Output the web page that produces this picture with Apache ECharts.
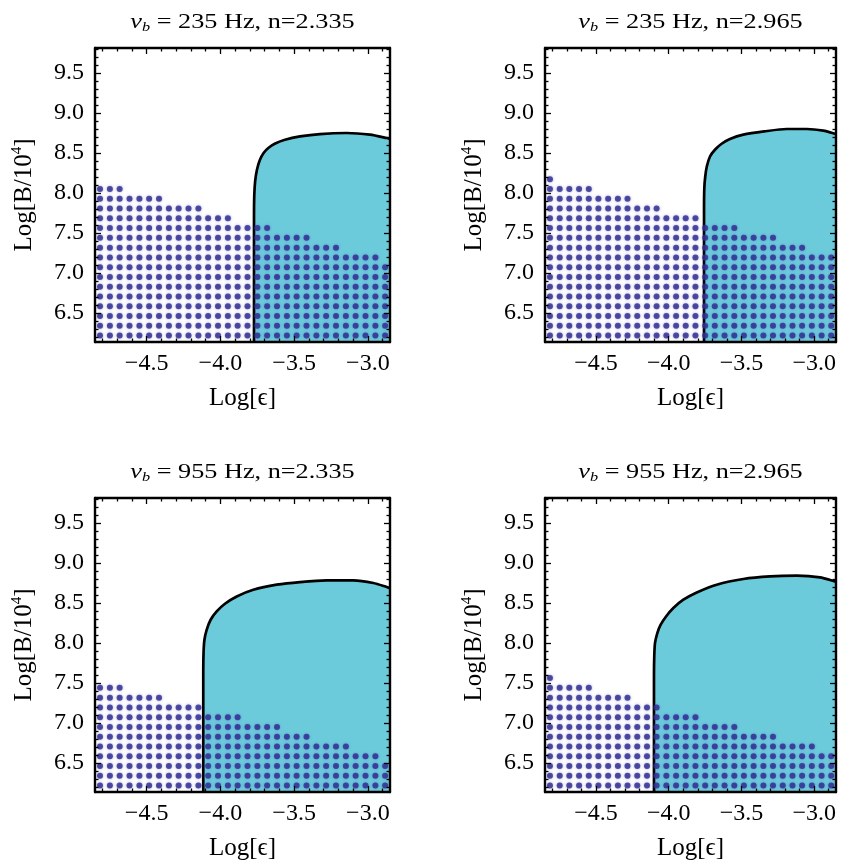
<!DOCTYPE html>
<html><head><meta charset="utf-8">
<script src="https://cdn.jsdelivr.net/npm/echarts@6/dist/echarts.min.js"></script>
<style>html,body{margin:0;padding:0;background:#fff}#c{width:842px;height:863px}</style>
</head><body><div id="c"></div>
<script>
// ---------- data ----------
const epsGrid = [-4.816,-4.749,-4.683,-4.616,-4.549,-4.483,-4.416,-4.349,-4.283,-4.216,
  -4.149,-4.083,-4.016,-3.949,-3.883,-3.816,-3.749,-3.683,-3.616,-3.549,
  -3.483,-3.416,-3.349,-3.283,-3.216,-3.149,-3.083,-3.016,-2.949,-2.883];
const bGrid = [6.22,6.342,6.464,6.586,6.708,6.83,6.952,7.074,7.196,7.318,7.44,7.562,7.684,7.806,7.928,8.05,8.172];

// highest B of the dot column at each epsGrid value
const topTL = [8.05,8.05,8.05,7.928,7.928,7.928,7.928,7.806,7.806,7.806,7.806,7.684,7.684,7.684,7.562,7.562,7.562,7.562,7.44,7.44,7.44,7.44,7.318,7.318,7.318,7.196,7.196,7.196,7.196,7.074];
const topTR = [8.172,8.05,8.05,8.05,8.05,7.928,7.928,7.928,7.928,7.806,7.806,7.806,7.684,7.684,7.684,7.684,7.562,7.562,7.562,7.562,7.44,7.44,7.44,7.44,7.318,7.318,7.318,7.196,7.196,7.196];
const topBL = [7.44,7.44,7.44,7.318,7.318,7.318,7.318,7.196,7.196,7.196,7.196,7.074,7.074,7.074,7.074,6.952,6.952,6.952,6.952,6.83,6.83,6.83,6.708,6.708,6.708,6.708,6.586,6.586,6.586,6.464];
const topBR = [7.562,7.44,7.44,7.44,7.44,7.318,7.318,7.318,7.318,7.196,7.196,7.196,7.074,7.074,7.074,7.074,6.952,6.952,6.952,6.952,6.83,6.83,6.83,6.83,6.708,6.708,6.708,6.708,6.586,6.586];

// boundary curves of the allowed (cyan) region
const curveTL = [[-3.772,6.14],[-3.772,7.7],[-3.770,7.98],[-3.764,8.15],[-3.752,8.29],[-3.733,8.41],[-3.707,8.50],[-3.673,8.565],[-3.628,8.618],[-3.562,8.665],[-3.460,8.706],[-3.325,8.736],[-3.144,8.749],[-2.986,8.728],[-2.872,8.686],[-2.85,8.675]];
const curveTR = [[-3.757,6.14],[-3.757,7.8],[-3.755,8.06],[-3.749,8.2],[-3.738,8.33],[-3.716,8.456],[-3.682,8.54],[-3.636,8.615],[-3.579,8.674],[-3.487,8.728],[-3.343,8.769],[-3.189,8.799],[-3.051,8.799],[-2.937,8.778],[-2.857,8.74],[-2.85,8.735]];
const curveBL = [[-4.116,6.14],[-4.116,7.6],[-4.114,7.88],[-4.108,8.04],[-4.093,8.165],[-4.066,8.29],[-4.025,8.394],[-3.969,8.49],[-3.889,8.581],[-3.777,8.665],[-3.618,8.728],[-3.46,8.761],[-3.279,8.781],[-3.099,8.781],[-2.963,8.749],[-2.872,8.699],[-2.85,8.685]];
const curveBR = [[-4.101,6.14],[-4.101,7.6],[-4.099,7.84],[-4.094,7.999],[-4.078,8.124],[-4.055,8.228],[-4.018,8.331],[-3.968,8.436],[-3.899,8.54],[-3.807,8.631],[-3.670,8.728],[-3.487,8.799],[-3.304,8.831],[-3.12,8.84],[-2.96,8.819],[-2.857,8.769],[-2.85,8.765]];

const titleFreq = ['235 Hz', '235 Hz', '955 Hz', '955 Hz'];
const titleN = ['2.335', '2.965', '2.335', '2.965'];

const xMajor = [-4.5,-4.0,-3.5,-3.0];
const xMinor = [-4.8,-4.7,-4.6,-4.4,-4.3,-4.2,-4.1,-3.9,-3.8,-3.7,-3.6,-3.4,-3.3,-3.2,-3.1,-2.9];
const yMajor = [6.5,7.0,7.5,8.0,8.5,9.0,9.5];
const yMinor = [6.2,6.3,6.4,6.6,6.7,6.8,6.9,7.1,7.2,7.3,7.4,7.6,7.7,7.8,7.9,8.1,8.2,8.3,8.4,8.6,8.7,8.8,8.9,9.1,9.2,9.3,9.4,9.6,9.7,9.8];

// ---------- layout / style ----------
const X_MIN = -4.85, X_MAX = -2.85, Y_MIN = 6.14, Y_MAX = 9.81;
const FONT = '"Liberation Serif","DejaVu Serif",serif';
const panels = [
  {left:95,  top:48,  width:295, height:294, tops:topTL, curve:curveTL},
  {left:545, top:48,  width:291, height:294, tops:topTR, curve:curveTR},
  {left:95,  top:498, width:295, height:294, tops:topBL, curve:curveBL},
  {left:545, top:498, width:291, height:294, tops:topBR, curve:curveBR}
];

const fmt = v => v.toFixed(1).replace('-', '\u2212');
const grids = [], xAxes = [], yAxes = [], series = [], graphics = [];

panels.forEach((p, g) => {
  grids.push({left:p.left, top:p.top, width:p.width, height:p.height, outerBoundsMode:'none', containLabel:false});
  const tickStyle = {color:'#000', width:1.3};
  const frame = {show:true, onZero:false, lineStyle:{color:'#000', width:2.4}};
  const baseX = {gridIndex:g, type:'value', min:X_MIN, max:X_MAX, splitLine:{show:false}, z:10};
  const baseY = {gridIndex:g, type:'value', min:Y_MIN, max:Y_MAX, splitLine:{show:false}, z:10};
  // bottom major (labels)
  xAxes.push(Object.assign({}, baseX, {position:'bottom', axisLine:frame,
    axisTick:{show:true, inside:true, length:6, customValues:xMajor, lineStyle:tickStyle},
    axisLabel:{show:true, customValues:xMajor, formatter:fmt, margin:10, color:'#000', fontFamily:FONT, fontSize:24},
    name:'Log[\u03F5]', nameLocation:'middle', nameGap:44,
    nameTextStyle:{color:'#000', fontFamily:FONT, fontSize:25}}));
  xAxes.push(Object.assign({}, baseX, {position:'bottom', axisLine:{show:false, onZero:false},
    axisTick:{show:true, inside:true, length:3.5, customValues:xMinor, lineStyle:tickStyle}, axisLabel:{show:false}}));
  xAxes.push(Object.assign({}, baseX, {position:'top', axisLine:frame,
    axisTick:{show:true, inside:true, length:6, customValues:xMajor, lineStyle:tickStyle}, axisLabel:{show:false}}));
  xAxes.push(Object.assign({}, baseX, {position:'top', axisLine:{show:false, onZero:false},
    axisTick:{show:true, inside:true, length:3.5, customValues:xMinor, lineStyle:tickStyle}, axisLabel:{show:false}}));

  yAxes.push(Object.assign({}, baseY, {position:'left', axisLine:frame,
    axisTick:{show:true, inside:true, length:6, customValues:yMajor, lineStyle:tickStyle},
    axisLabel:{show:true, customValues:yMajor, formatter:fmt, margin:11, color:'#000', fontFamily:FONT, fontSize:24},
    name:'{a|Log[B/10}{s|4}{a|]}', nameLocation:'middle', nameGap:57, nameRotate:90,
    nameTextStyle:{color:'#000', fontFamily:FONT, fontSize:25,
      rich:{a:{color:'#000', fontFamily:FONT, fontSize:25, lineHeight:28},
            s:{color:'#000', fontFamily:FONT, fontSize:15, lineHeight:14, verticalAlign:'top'}}}}));
  yAxes.push(Object.assign({}, baseY, {position:'left', axisLine:{show:false, onZero:false},
    axisTick:{show:true, inside:true, length:3.5, customValues:yMinor, lineStyle:tickStyle}, axisLabel:{show:false}}));
  yAxes.push(Object.assign({}, baseY, {position:'right', axisLine:frame,
    axisTick:{show:true, inside:true, length:6, customValues:yMajor, lineStyle:tickStyle}, axisLabel:{show:false}}));
  yAxes.push(Object.assign({}, baseY, {position:'right', axisLine:{show:false, onZero:false},
    axisTick:{show:true, inside:true, length:3.5, customValues:yMinor, lineStyle:tickStyle}, axisLabel:{show:false}}));

  const dots = [];
  epsGrid.forEach((e, i) => {
    bGrid.forEach(b => { if (b <= p.tops[i] + 1e-6) dots.push([e, b]); });
  });

  series.push({type:'line', xAxisIndex:4*g, yAxisIndex:4*g, data:p.curve, showSymbol:false, smooth:0.25,
    lineStyle:{color:'#000', width:2.7}, areaStyle:{color:'#6ccbdb', opacity:1, origin:'start'},
    z:2, silent:true, animation:false});
  series.push({type:'scatter', xAxisIndex:4*g, yAxisIndex:4*g, data:dots, symbolSize:6,
    itemStyle:{color:'#2f2c8c', shadowBlur:2.5, shadowColor:'rgba(80,80,200,0.7)'},
    z:3, silent:true, animation:false});

  graphics.push({type:'text', x:p.left + p.width/2, y:p.top - 26, scaleX:1.25,
    style:{text:'{v|\u03BD}{s|b}{t| = ' + titleFreq[g] + ', n=' + titleN[g] + '}',
      align:'center', verticalAlign:'middle', fill:'#000',
      rich:{v:{fontFamily:FONT, fontStyle:'italic', fontSize:21, lineHeight:24, fill:'#000'},
            s:{fontFamily:FONT, fontStyle:'italic', fontSize:13, lineHeight:10, verticalAlign:'bottom', fill:'#000'},
            t:{fontFamily:FONT, fontSize:21, lineHeight:24, fill:'#000'}}}});
});

const chart = echarts.init(document.getElementById('c'), null, {renderer:'canvas'});
chart.setOption({
  animation:false,
  backgroundColor:'#fff',
  grid:grids, xAxis:xAxes, yAxis:yAxes, series:series, graphic:graphics
});
</script></body></html>
